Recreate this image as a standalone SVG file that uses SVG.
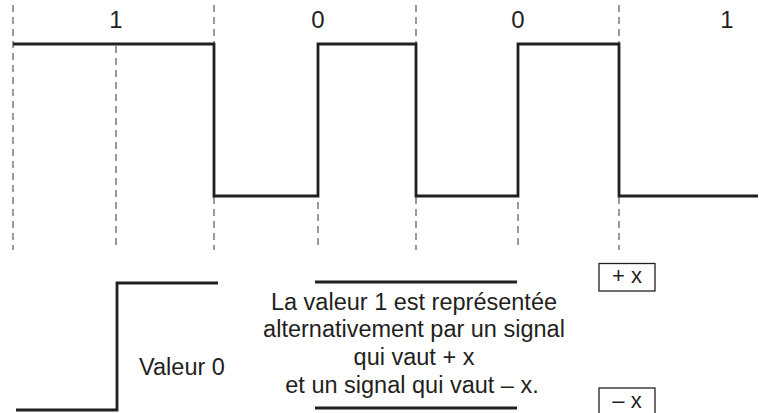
<svg xmlns="http://www.w3.org/2000/svg" width="759" height="413" viewBox="0 0 759 413">
<style>
.grid{stroke:#58595b;stroke-width:1.2;stroke-dasharray:7 5;fill:none}
.sig{stroke:#231f20;stroke-width:2.8;fill:none;stroke-linejoin:miter;stroke-linecap:butt}
.lbl{font-family:"Liberation Sans",Arial,sans-serif;font-size:24px;fill:#231f20;text-anchor:middle}
.txt{font-family:"Liberation Sans",Arial,sans-serif;font-size:23.5px;fill:#231f20;text-anchor:middle}
.box{stroke:#231f20;stroke-width:1.3;fill:#fff}
.bx{font-family:"Liberation Sans",Arial,sans-serif;font-size:22px;fill:#231f20;text-anchor:middle}
</style>
<rect width="759" height="413" fill="#fff"/>
<g id="grid">
<line class="grid" x1="13" y1="5" x2="13" y2="250"/>
<line class="grid" x1="116" y1="46" x2="116" y2="250"/>
<line class="grid" x1="214" y1="5" x2="214" y2="250"/>
<line class="grid" x1="318" y1="46" x2="318" y2="250"/>
<line class="grid" x1="416" y1="5" x2="416" y2="250"/>
<line class="grid" x1="518" y1="46" x2="518" y2="250"/>
<line class="grid" x1="619" y1="5" x2="619" y2="250"/>
</g>
<g id="bits">
<text class="lbl" x="116" y="28">1</text>
<text class="lbl" x="318" y="28">0</text>
<text class="lbl" x="518" y="28">0</text>
<text class="lbl" x="727" y="28">1</text>
</g>
<g id="connectors">
<path id="signal" class="sig" d="M13,44 H214 V196 H318 V44 H416 V196 H518 V44 H619 V196 H758"/>
<path id="step" class="sig" d="M16,410 H117 V283 H218"/>
<path id="top-bar" class="sig" d="M315,282 H517"/>
<path id="bottom-bar" class="sig" d="M315,408 H517"/>
</g>
<g id="valeur0">
<text class="txt" x="182" y="375">Valeur 0</text>
</g>
<g id="explanation">
<text class="txt" x="414" y="310">La valeur 1 est représentée</text>
<text class="txt" x="414" y="337">alternativement par un signal</text>
<text class="txt" x="414" y="365">qui vaut + x</text>
<text class="txt" x="412" y="393">et un signal qui vaut – x.</text>
</g>
<g id="plus-x">
<rect class="box" x="599" y="263.5" width="56" height="27.5"/>
<text class="bx" x="627" y="283">+ x</text>
</g>
<g id="minus-x">
<rect class="box" x="599" y="388" width="56" height="27.5"/>
<text class="bx" x="627" y="408">– x</text>
</g>
</svg>
